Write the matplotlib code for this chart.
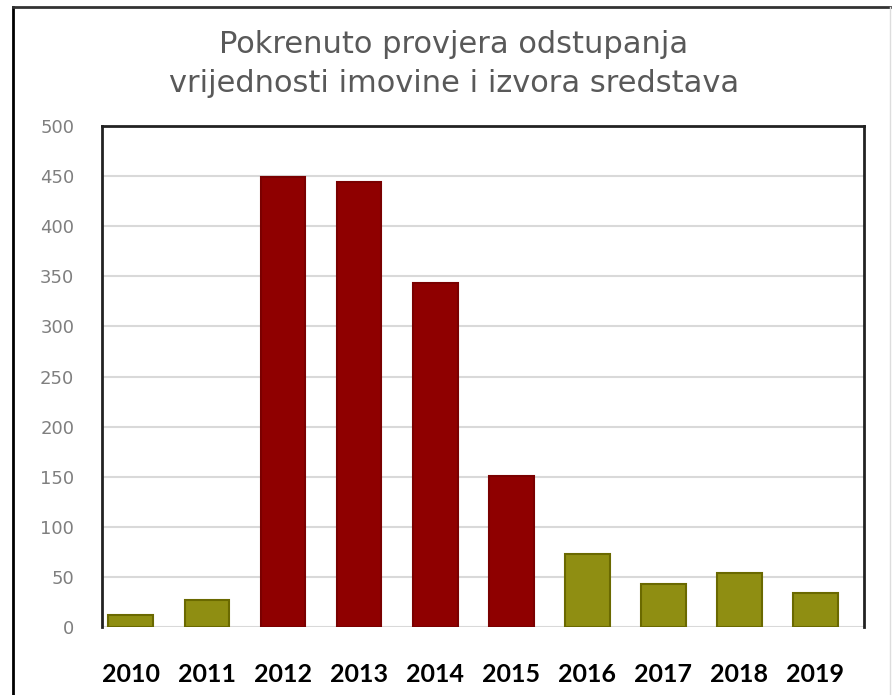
import numpy as np
import matplotlib
matplotlib.use("Agg")
import matplotlib.pyplot as plt
from matplotlib.lines import Line2D

# -------------------------------
# Data
# -------------------------------
years = ["2010", "2011", "2012", "2013", "2014", "2015", "2016", "2017", "2018", "2019"]
counts = [12, 27, 449, 444, 343, 151, 73, 43, 54, 34]
highlight = [False, False, True, True, True, True, False, False, False, False]
y_ticks = [0, 50, 100, 150, 200, 250, 300, 350, 400, 450, 500]
title_lines = ["Pokrenuto provjera odstupanja", "vrijednosti imovine i izvora sredstava"]

RED = "#8f0000"
RED_EDGE = "#7a0000"
OLIVE = "#8f8e12"
OLIVE_EDGE = "#6a6900"

# -------------------------------
# Figure
# -------------------------------
fig = plt.figure(figsize=(8.94, 6.95), dpi=100)
fig.patch.set_facecolor("white")

# outer frame from the screenshot
fig.add_artist(Line2D([13 / 894, 13 / 894], [0, 1 - 7 / 695], transform=fig.transFigure,
                      color="black", lw=2))
fig.add_artist(Line2D([13 / 894, 890 / 894], [1 - 7 / 695, 1 - 7 / 695], transform=fig.transFigure,
                      color="#333333", lw=2))
fig.add_artist(Line2D([890 / 894, 890 / 894], [0, 1 - 7 / 695], transform=fig.transFigure,
                      color="#dddddd", lw=1))

ax = fig.add_axes([102 / 894, 68 / 695, 762 / 894, 501 / 695])

x = np.arange(len(years))
colors = [RED if h else OLIVE for h in highlight]
edges = [RED_EDGE if h else OLIVE_EDGE for h in highlight]
ax.bar(x, counts, width=0.59, color=colors, edgecolor=edges, linewidth=1.5, zorder=3)

ax.set_xlim(-0.38, 9.64)
ax.set_ylim(0, 500)
ax.set_yticks(y_ticks)
ax.set_yticklabels([str(v) for v in y_ticks], fontsize=13, color="#7f7f7f",
                   family="DejaVu Sans")
ax.set_xticks(x)
ax.set_xticklabels(years, fontsize=18, fontweight="bold", color="black",
                   family=["Lato", "DejaVu Sans"])
ax.tick_params(axis="y", length=0, pad=20)
ax.tick_params(axis="x", length=0, pad=26)

for v in y_ticks[:-1]:
    ax.axhline(v, color="#d9d9d9", lw=1.5, zorder=1)

for side in ["left", "right", "top"]:
    ax.spines[side].set_color("#222222")
    ax.spines[side].set_linewidth(2)
ax.spines["bottom"].set_visible(False)

# title, two lines placed on their baselines
for line, ypx in zip(title_lines, [53, 92]):
    fig.text(454 / 894, 1 - ypx / 695, line, ha="center", va="baseline",
             fontsize=22, color="#595959", family="DejaVu Sans")

fig.savefig("out.png", dpi=100)
